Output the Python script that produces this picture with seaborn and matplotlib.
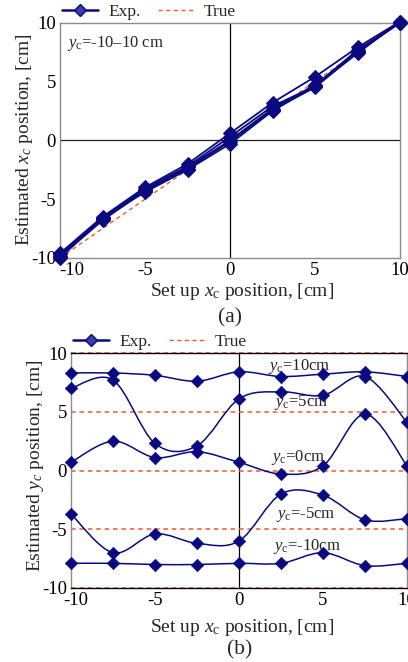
from matplotlib import pyplot as plt
from matplotlib.lines import Line2D
from matplotlib.path import Path
from matplotlib.patches import PathPatch
import matplotlib.transforms as mtransforms
import numpy as np
import pandas as pd
import seaborn as sns

# --- data ---
x_setup = [-10, -7.5, -5, -2.5, 0, 2.5, 5, 7.5, 10]
yc_levels = [10, 5, 0, -5, -10]

# (a) estimated x_c for each y_c row
est_x_yc10 = [-9.6, -6.5, -4.0, -2.0, 0.6, 3.2, 5.4, 7.9, 10.1]
est_x_yc5 = [-9.7, -6.6, -4.1, -2.2, 0.3, 2.9, 4.6, 7.7, 10.0]
est_x_yc0 = [-9.8, -6.7, -4.2, -2.3, 0.0, 2.7, 4.7, 7.6, 10.0]
est_x_ycm5 = [-9.9, -6.8, -4.3, -2.4, -0.1, 2.6, 4.5, 7.5, 10.0]
est_x_ycm10 = [-10.0, -6.6, -4.4, -2.5, -0.3, 2.5, 4.6, 7.4, 10.1]

# (b) estimated y_c for each y_c row
est_y_yc10 = [8.3, 8.3, 8.1, 7.6, 8.4, 8.0, 8.2, 8.4, 8.0]
est_y_yc5 = [7.0, 7.7, 2.3, 2.1, 6.1, 6.7, 6.4, 8.0, 4.1]
est_y_yc0 = [0.7, 2.5, 1.1, 1.6, 0.7, -0.3, 0.4, 4.8, 0.4]
est_y_ycm5 = [-3.7, -7.0, -5.4, -6.2, -6.0, -2.0, -2.1, -4.2, -4.1]
est_y_ycm10 = [-7.9, -7.9, -8.0, -8.0, -7.9, -7.9, -7.0, -8.1, -7.9]

true_range = [-10, 10]
ticks = [-10, -5, 0, 5, 10]

est_x = [est_x_yc10, est_x_yc5, est_x_yc0, est_x_ycm5, est_x_ycm10]
est_y = [est_y_yc10, est_y_yc5, est_y_yc0, est_y_ycm5, est_y_ycm10]

df_a = pd.DataFrame([
    {'setup': x, 'est': v, 'yc': yc}
    for yc, vals in zip(yc_levels, est_x) for x, v in zip(x_setup, vals)
])
df_b = pd.DataFrame([
    {'setup': x, 'est': v, 'yc': yc}
    for yc, vals in zip(yc_levels, est_y) for x, v in zip(x_setup, vals)
])

# --- style ---
sns.set_style('white')
plt.rcParams['font.family'] = ['Liberation Serif', 'DejaVu Serif']
plt.rcParams['mathtext.fontset'] = 'custom'
plt.rcParams['mathtext.rm'] = 'Liberation Serif'
plt.rcParams['mathtext.it'] = 'Liberation Serif:italic'
plt.rcParams['axes.unicode_minus'] = False

navy = '#0a0a80'
red = '#f05a30'
grey = '#8c8c8c'
fs = 13.5
fs_lab = 14

fig = plt.figure(figsize=(4.08, 6.62), dpi=100)
ax1 = fig.add_axes([60/408, 1-258/662, 340/408, 235.3/662])
ax2 = fig.add_axes([71/408, 1-588/662, 336/408, 235/662])


def style_axes(ax, shift_px):
    ax.set_xlim(-10, 10)
    ax.set_ylim(-10, 10)
    ax.set_xticks(ticks)
    ax.set_yticks(ticks)
    ax.tick_params(direction='in', length=3, width=0.8, color='black',
                   labelsize=fs, pad=3, labelcolor='black')
    for s in ax.spines.values():
        s.set_color(grey)
        s.set_linewidth(1.0)
    ax.set_xlabel('')
    ax.set_ylabel('')
    # first x tick label sits a little to the right, as in the original
    lab = ax.get_xticklabels()[0]
    lab.set_transform(lab.get_transform() +
                      mtransforms.ScaledTranslation(shift_px/100, 0, fig.dpi_scale_trans))


# --- (a) ---
ax1.plot(true_range, true_range, ls=(0, (3, 2.5)), color=red, lw=1.0, zorder=2)
sns.lineplot(data=df_a, x='setup', y='est', hue='yc', units='yc', estimator=None,
             palette=[navy]*5, marker='D', markersize=7, markeredgecolor=navy,
             lw=1.3, legend=False, ax=ax1, zorder=3, clip_on=False)
ax1.axhline(0, color='#202020', lw=0.9, zorder=1)
ax1.axvline(0, color='black', lw=0.9, zorder=1)
style_axes(ax1, 12)
ax1.text(-9.6, 8.25, r'$y_\mathrm{c}$=-10–10 cm', fontsize=12, va='center', ha='left')

# --- (b) ---
for lvl in yc_levels:
    ax2.axhline(lvl, color=red, ls=(0, (3, 2.5)), lw=1.1, zorder=2, clip_on=False)
ax2.axvline(0, color='black', lw=0.9, zorder=1)


def smooth_path(xs, ys):
    pts = np.column_stack([xs, ys])
    n = len(pts)
    verts = [pts[0]]
    codes = [Path.MOVETO]
    for i in range(n - 1):
        p0 = pts[max(i - 1, 0)]
        p1 = pts[i]
        p2 = pts[i + 1]
        p3 = pts[min(i + 2, n - 1)]
        verts += [p1 + (p2 - p0) / 6, p2 - (p3 - p1) / 6, p2]
        codes += [Path.CURVE4] * 3
    return Path(verts, codes)


for vals in est_y:
    ax2.add_patch(PathPatch(smooth_path(x_setup, vals), fc='none', ec=navy,
                            lw=1.1, zorder=3))
sns.scatterplot(data=df_b, x='setup', y='est', color=navy, marker='D', s=40,
                edgecolor=navy, legend=False, ax=ax2, zorder=4, clip_on=False)
style_axes(ax2, 5)
ax2.spines['top'].set_color('black')
ax2.spines['bottom'].set_color('black')

labels_b = [(1.7, 8.85, '10'), (2.06, 5.8, '5'), (1.88, 1.1, '0'),
            (2.2, -3.75, '-5'), (2.0, -6.5, '-10')]
for lx, ly, t in labels_b:
    ax2.text(lx, ly, r'$y_\mathrm{c}$=' + t + 'cm', fontsize=12, va='center', ha='left')

# --- labels ---
fig.text(25/408, 1-140/662, r'Estimated $x_c$ position, [cm]', rotation=90,
         ha='center', va='center', fontsize=fs_lab)
fig.text(36/408, 1-466/662, r'Estimated $y_c$ position, [cm]', rotation=90,
         ha='center', va='center', fontsize=fs_lab)
fig.text(242/408, 1-292/662, r'Set up $x_\mathrm{c}$ position, [cm]',
         ha='center', va='center', fontsize=fs_lab)
fig.text(242/408, 1-627/662, r'Set up $x_\mathrm{c}$ position, [cm]',
         ha='center', va='center', fontsize=fs_lab)
fig.text(230/408, 1-318/662, '(a)', ha='center', va='center', fontsize=15.5)
fig.text(240/408, 1-650/662, '(b)', ha='center', va='center', fontsize=15.5)

# --- legends ---
def legend_handles():
    return [Line2D([], [], color=navy, lw=1.8, marker='D', markersize=6,
                   markerfacecolor='#3c3ca8', markeredgecolor=navy),
            Line2D([], [], color=red, lw=1.0, ls=(0, (3, 2.5)))]


fig.legend(legend_handles(), ['Exp.', 'True'], loc='center left',
           bbox_to_anchor=(62/408, 1-12/662), ncol=2, frameon=False,
           fontsize=12.5, handlelength=2.1, handletextpad=0.55,
           columnspacing=1.0, borderpad=0, borderaxespad=0)
fig.legend(legend_handles(), ['Exp.', 'True'], loc='center left',
           bbox_to_anchor=(73/408, 1-342/662), ncol=2, frameon=False,
           fontsize=12.5, handlelength=2.1, handletextpad=0.55,
           columnspacing=1.0, borderpad=0, borderaxespad=0)

fig.savefig('out.png', dpi=100)
